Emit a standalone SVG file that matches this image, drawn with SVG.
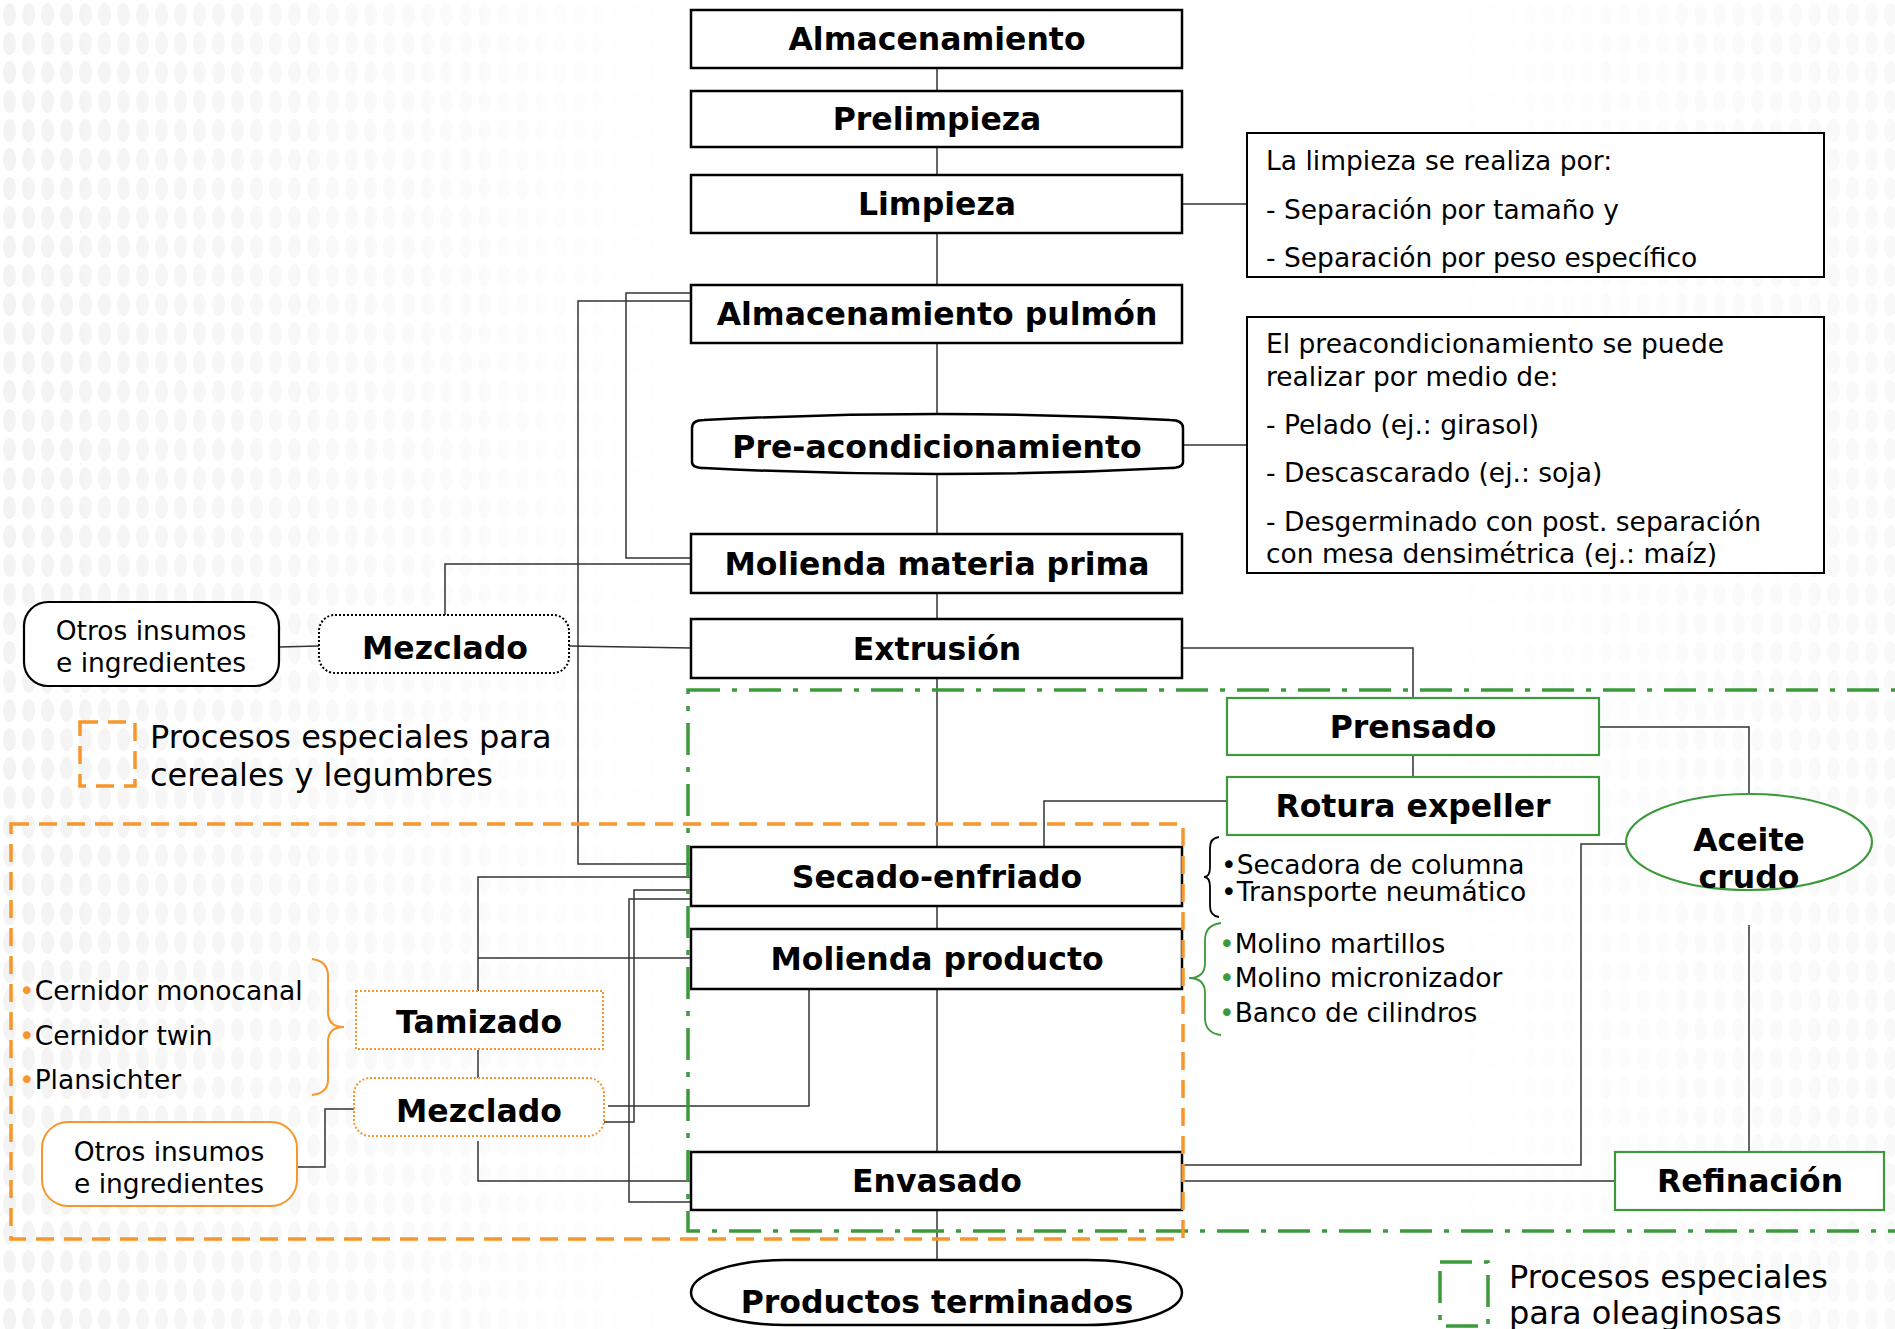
<svg xmlns="http://www.w3.org/2000/svg" width="1895" height="1329" viewBox="0 0 1895 1329">
<style>
.box{fill:#fff;stroke:#000;stroke-width:2.5}
.gbox{fill:#fff;stroke:#3c9a3c;stroke-width:2.2}
.obox{fill:#fff;stroke:#f7962a;stroke-width:2}
.odot{fill:#fff;stroke:#f7962a;stroke-width:2;stroke-dasharray:2 2}
.bdot{fill:#fff;stroke:#000;stroke-width:2;stroke-dasharray:2 2}
.note{fill:#fff;stroke:#000;stroke-width:2}
.lbl{font-family:"DejaVu Sans",Verdana,sans-serif;font-weight:bold;font-size:31.5px;text-anchor:middle;fill:#000}
.txt{font-family:"DejaVu Sans",Verdana,sans-serif;font-size:26.5px;fill:#000}
.leg{font-family:"DejaVu Sans",Verdana,sans-serif;font-size:32px;fill:#000}
.con{fill:none;stroke:#333;stroke-width:1.5}
.oreg{fill:none;stroke:#f7962a;stroke-width:3.5;stroke-dasharray:18 10}
.greg{fill:none;stroke:#3c9a3c;stroke-width:3.5;stroke-dasharray:32 12 5 12}
</style>
<defs>
<pattern id="dots" width="19" height="29" patternUnits="userSpaceOnUse">
<ellipse cx="9.5" cy="14.5" rx="6.5" ry="11.5" fill="#f3f3f3"/>
</pattern>
<linearGradient id="fadeL" x1="0" y1="0" x2="1" y2="0">
<stop offset="0" stop-color="#fff" stop-opacity="1"/>
<stop offset="0.2" stop-color="#fff" stop-opacity="0.45"/>
<stop offset="0.36" stop-color="#fff" stop-opacity="0"/>
<stop offset="0.75" stop-color="#fff" stop-opacity="0"/>
<stop offset="1" stop-color="#fff" stop-opacity="0.55"/>
</linearGradient>
<mask id="bgmask"><rect x="0" y="0" width="1895" height="1329" fill="url(#fadeL)"/></mask>
</defs>
<rect x="0" y="0" width="1895" height="1329" fill="#fff"/>
<rect x="0" y="0" width="1895" height="1329" fill="url(#dots)" mask="url(#bgmask)"/>

<g id="connectors">
<line class="con" x1="937" y1="68" x2="937" y2="91"/>
<line class="con" x1="937" y1="147" x2="937" y2="175"/>
<line class="con" x1="937" y1="233" x2="937" y2="285"/>
<line class="con" x1="937" y1="343" x2="937" y2="414"/>
<line class="con" x1="937" y1="474" x2="937" y2="534"/>
<line class="con" x1="937" y1="593" x2="937" y2="619"/>
<line class="con" x1="937" y1="678" x2="937" y2="847"/>
<line class="con" x1="937" y1="906" x2="937" y2="929"/>
<line class="con" x1="937" y1="989" x2="937" y2="1152"/>
<line class="con" x1="937" y1="1210" x2="937" y2="1260"/>
<line class="con" x1="1182" y1="204" x2="1247" y2="204"/>
<line class="con" x1="1183" y1="445" x2="1247" y2="445"/>
<polyline class="con" points="691,293 626,293 626,558 691,558"/>
<polyline class="con" points="691,301 578,301 578,864 691,864"/>
<polyline class="con" points="445,615 445,564 691,564"/>
<line class="con" x1="279" y1="647" x2="319" y2="646"/>
<line class="con" x1="569" y1="646" x2="691" y2="648"/>
<polyline class="con" points="1182,648 1413,648 1413,698"/>
<line class="con" x1="1413" y1="755" x2="1413" y2="777"/>
<polyline class="con" points="1599,727 1749,727 1749,794"/>
<polyline class="con" points="1227,801 1044,801 1044,847"/>
<polyline class="con" points="1627,844 1581,844 1581,1165 1182,1165"/>
<line class="con" x1="1749" y1="925" x2="1749" y2="1152"/>
<line class="con" x1="1182" y1="1181" x2="1615" y2="1181"/>
<polyline class="con" points="691,877 478,877 478,991"/>
<line class="con" x1="478" y1="958" x2="691" y2="958"/>
<polyline class="con" points="603,1122 634,1122 634,890 691,890"/>
<polyline class="con" points="693,899 629,899 629,1202 693,1202"/>
<polyline class="con" points="809,989 809,1106 608,1106"/>
<polyline class="con" points="478,1141 478,1181 691,1181"/>
<line class="con" x1="478" y1="1050" x2="478" y2="1078"/>
<polyline class="con" points="297,1167 325,1167 325,1109 354,1109"/>
</g>

<g id="n-almacenamiento"><rect class="box" x="691" y="10" width="491" height="58"/><text class="lbl" x="937" y="50">Almacenamiento</text></g>
<g id="n-prelimpieza"><rect class="box" x="691" y="91" width="491" height="56"/><text class="lbl" x="937" y="130">Prelimpieza</text></g>
<g id="n-limpieza"><rect class="box" x="691" y="175" width="491" height="58"/><text class="lbl" x="937" y="215">Limpieza</text></g>
<g id="n-pulmon"><rect class="box" x="691" y="285" width="491" height="58"/><text class="lbl" x="937" y="325">Almacenamiento pulmón</text></g>
<g id="n-preacond"><path class="box" d="M692,428 Q692,420 704,420 Q937,408 1170,420 Q1183,420 1183,428 L1183,462 Q1183,468 1170,468 Q937,480 704,468 Q692,468 692,462 Z"/><text class="lbl" x="937" y="458">Pre-acondicionamiento</text></g>
<g id="n-molienda-mp"><rect class="box" x="691" y="534" width="491" height="59"/><text class="lbl" x="937" y="575">Molienda materia prima</text></g>
<g id="n-extrusion"><rect class="box" x="691" y="619" width="491" height="59"/><text class="lbl" x="937" y="660">Extrusión</text></g>
<g id="n-secado"><rect class="box" x="691" y="847" width="491" height="59"/><text class="lbl" x="937" y="888">Secado-enfriado</text></g>
<g id="n-molienda-prod"><rect class="box" x="691" y="929" width="491" height="60"/><text class="lbl" x="937" y="970">Molienda producto</text></g>
<g id="n-envasado"><rect class="box" x="691" y="1152" width="491" height="58"/><text class="lbl" x="937" y="1192">Envasado</text></g>
<g id="n-productos"><rect class="box" x="691" y="1260" width="491" height="65" rx="95" ry="32.5"/><text class="lbl" x="937" y="1313">Productos terminados</text></g>

<g id="n-prensado"><rect class="gbox" x="1227" y="698" width="372" height="57"/><text class="lbl" x="1413" y="738">Prensado</text></g>
<g id="n-rotura"><rect class="gbox" x="1227" y="777" width="372" height="58"/><text class="lbl" x="1413" y="817">Rotura expeller</text></g>
<g id="n-aceite"><ellipse cx="1749" cy="842" rx="123" ry="48" fill="#fff" stroke="#3c9a3c" stroke-width="2.2"/><text class="lbl" x="1749" y="851">Aceite</text><text class="lbl" x="1749" y="888">crudo</text></g>
<g id="n-refinacion"><rect class="gbox" x="1615" y="1152" width="269" height="58"/><text class="lbl" x="1750" y="1192">Refinación</text></g>

<g id="n-nota-limpieza"><rect class="note" x="1247" y="133" width="577" height="144"/>
<text class="txt" x="1266" y="170">La limpieza se realiza por:</text>
<text class="txt" x="1266" y="219">- Separación por tamaño y</text>
<text class="txt" x="1266" y="267">- Separación por peso específico</text></g>
<g id="n-nota-preacond"><rect class="note" x="1247" y="317" width="577" height="256"/>
<text class="txt" x="1266" y="353">El preacondicionamiento se puede</text>
<text class="txt" x="1266" y="386">realizar por medio de:</text>
<text class="txt" x="1266" y="434">- Pelado (ej.: girasol)</text>
<text class="txt" x="1266" y="482">- Descascarado (ej.: soja)</text>
<text class="txt" x="1266" y="531">- Desgerminado con post. separación</text>
<text class="txt" x="1266" y="563">con mesa densimétrica (ej.: maíz)</text></g>

<g id="n-otros1"><rect x="24" y="602" width="255" height="84" rx="24" ry="24" fill="#fff" stroke="#000" stroke-width="2.2"/>
<text class="txt" x="151" y="640" text-anchor="middle">Otros insumos</text>
<text class="txt" x="151" y="672" text-anchor="middle">e ingredientes</text></g>
<g id="n-mezclado1"><rect class="bdot" x="319" y="615" width="250" height="58" rx="16" ry="16"/><text class="lbl" x="445" y="659">Mezclado</text></g>

<g id="n-tamizado"><rect class="odot" x="356" y="991" width="247" height="58"/><text class="lbl" x="479" y="1033">Tamizado</text></g>
<g id="n-mezclado2"><rect class="odot" x="354" y="1078" width="250" height="58" rx="16" ry="16"/><text class="lbl" x="479" y="1122">Mezclado</text></g>
<g id="n-otros2"><rect class="obox" x="42" y="1122" width="255" height="84" rx="26" ry="26"/>
<text class="txt" x="169" y="1161" text-anchor="middle">Otros insumos</text>
<text class="txt" x="169" y="1193" text-anchor="middle">e ingredientes</text></g>

<g id="n-secado-list">
<path d="M1219,837 Q1210,838 1210,848 L1210,867 Q1210,877 1204,877 Q1210,877 1210,887 L1210,906 Q1210,916 1219,917" fill="none" stroke="#000" stroke-width="1.8"/>
<text class="txt" x="1221" y="874">•Secadora de columna</text>
<text class="txt" x="1221" y="901">•Transporte neumático</text></g>
<g id="n-molienda-list">
<path d="M1221,923 Q1205,925 1205,940 L1205,963 Q1205,978 1189,978 Q1205,978 1205,993 L1205,1018 Q1205,1033 1221,1035" fill="none" stroke="#3c9a3c" stroke-width="1.8"/>
<text class="txt" x="1219" y="953"><tspan fill="#3c9a3c">•</tspan>Molino martillos</text>
<text class="txt" x="1219" y="987"><tspan fill="#3c9a3c">•</tspan>Molino micronizador</text>
<text class="txt" x="1219" y="1022"><tspan fill="#3c9a3c">•</tspan>Banco de cilindros</text></g>
<g id="n-tamizado-list">
<path d="M312,959 Q328,961 328,976 L328,1012 Q328,1027 344,1027 Q328,1027 328,1042 L328,1080 Q328,1093 312,1095" fill="none" stroke="#f7962a" stroke-width="2"/>
<text class="txt" x="19" y="1000"><tspan fill="#f7962a">•</tspan>Cernidor monocanal</text>
<text class="txt" x="19" y="1045"><tspan fill="#f7962a">•</tspan>Cernidor twin</text>
<text class="txt" x="19" y="1089"><tspan fill="#f7962a">•</tspan>Plansichter</text></g>

<g id="regions">
<rect class="greg" x="688" y="690" width="1230" height="541"/>
<rect class="oreg" x="11" y="824" width="1172" height="415"/>
</g>

<g id="legend-orange"><rect class="oreg" x="80" y="722" width="55" height="64"/>
<text class="leg" x="150" y="748">Procesos especiales para</text>
<text class="leg" x="150" y="786">cereales y legumbres</text></g>
<g id="legend-green"><rect class="greg" x="1440" y="1262" width="48" height="64"/>
<text class="leg" x="1509" y="1288">Procesos especiales</text>
<text class="leg" x="1509" y="1324">para oleaginosas</text></g>
</svg>
